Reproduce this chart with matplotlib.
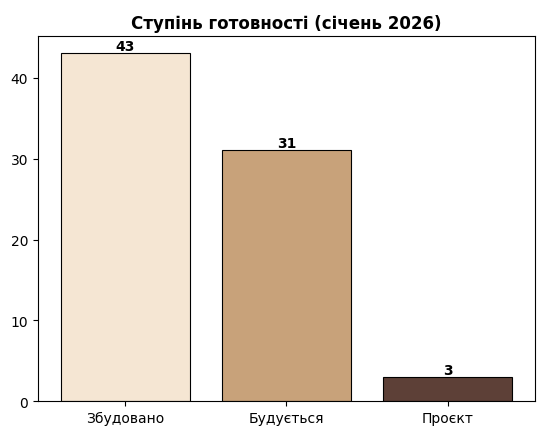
import matplotlib
matplotlib.use("Agg")
import matplotlib.pyplot as plt

categories = ["Збудовано", "Будується", "Проєкт"]
values = [43, 31, 3]
colors = ["#F5E6D3", "#C8A27A", "#5D4037"]

fig, ax = plt.subplots(figsize=(5.43, 4.35), dpi=100)
bars = ax.bar(categories, values, color=colors, edgecolor="black", linewidth=0.8)
for b, v in zip(bars, values):
    ax.text(b.get_x() + b.get_width() / 2, v, str(v), ha="center", va="bottom", fontweight="bold")
ax.set_title("Ступінь готовності (січень 2026)", fontweight="bold")
fig.subplots_adjust(left=0.07, right=0.985, top=0.915, bottom=0.075)
fig.savefig("out.png", dpi=100)
